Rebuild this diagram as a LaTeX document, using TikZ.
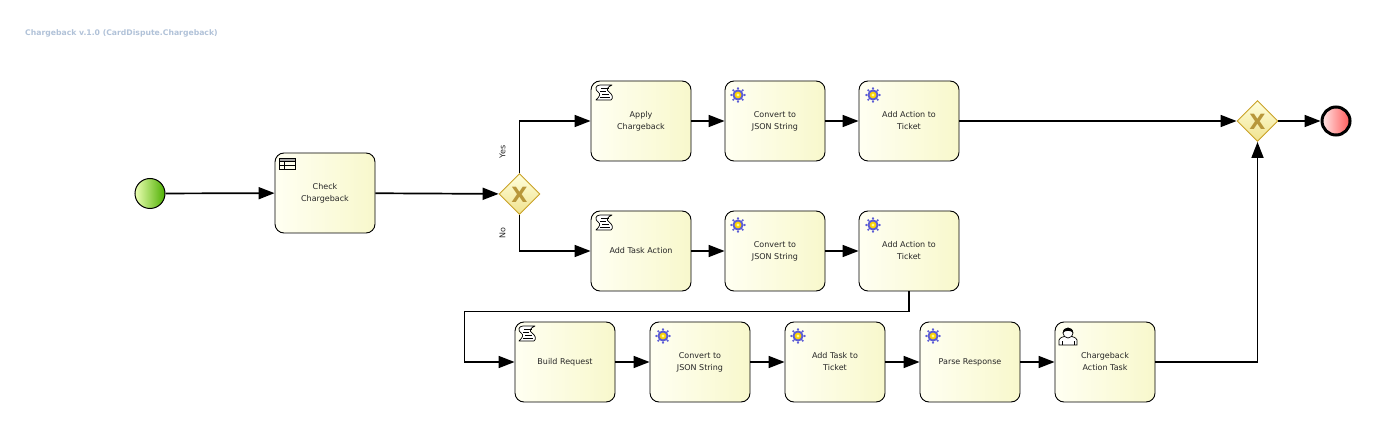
\documentclass[tikz,border=0pt]{standalone}
\usepackage{fontspec}
\setmainfont{DejaVu Sans}
\usetikzlibrary{arrows.meta,shapes.geometric,calc}
\definecolor{taskA}{HTML}{FFFFF2}
\definecolor{taskB}{HTML}{F8F8CC}
\definecolor{titleC}{HTML}{B1C2D8}
\definecolor{gwLine}{HTML}{C9A227}
\definecolor{gwMark}{HTML}{B8973A}
\definecolor{gwA}{HTML}{FFFFDD}
\definecolor{gwB}{HTML}{F0E28E}
\tikzset{
  x=1pt,y=-1pt,
  taskbox/.style={draw=black,line width=0.9pt,rounded corners=9pt,minimum width=100pt,minimum height=80pt,
    inner sep=0pt,align=center,font=\fontsize{8}{12}\selectfont,text=black!85,
    shade,shading angle=135,left color=taskA,right color=taskB},
  gateway/.style={diamond,aspect=1,draw=gwLine,line width=0.9pt,minimum width=41pt,minimum height=41pt,inner sep=0pt,
    shade,top color=gwA,bottom color=gwB},
  flow/.style={draw=black,line width=1.7pt,-{Triangle[length=16pt,width=12pt]}},
  lbl/.style={font=\fontsize{8}{10}\selectfont,text=black!85,rotate=90,inner sep=0pt},
  gwx/.style={font=\bfseries\fontsize{21}{21}\selectfont,text=gwMark,inner sep=0pt},
}
\newcommand{\gearicon}[1]{%
  \fill[blue!60!gray!80] (#1) circle (5.6pt);
  \foreach \a in {0,45,...,315}{\fill[blue!60!gray!80] (#1) ++(\a:6.6pt) circle (1.2pt);}
  \fill[yellow!70!orange] (#1) circle (3.4pt);
  \fill[yellow!40!white] (#1) circle (1.6pt);
}
\newcommand{\scripticon}[1]{%
  \begin{scope}[shift={(#1)}]
    \draw[black,line width=0.7pt,fill=white,line join=round]
      (-4,-8) .. controls (-9,-8) and (-9,-3) .. (-6,-1) .. controls (-3,1) and (-4,3) .. (-8,7)
      -- (7,7) .. controls (10,5) and (8,1) .. (5,-1) .. controls (2,-3) and (3,-6) .. (8,-8) -- cycle;
    \foreach \yy/\xa/\xb in {-5/-3/5,-2/-4/2,1/-2/5,4/-4/6}{\draw[black,line width=0.6pt] (\xa,\yy) -- (\xb,\yy);}
  \end{scope}
}
\newcommand{\tableicon}[1]{%
  \begin{scope}[shift={(#1)}]
    \fill[gray!70] (0,0) rectangle (16,3.5);
    \draw[black,line width=0.6pt] (0,0) rectangle (16,11) (0,3.5) -- (16,3.5) (0,7.2) -- (16,7.2) (5.5,3.5) -- (5.5,11);
  \end{scope}
}
\newcommand{\usericon}[1]{%
  \begin{scope}[shift={(#1)}]
    \draw[black,line width=0.7pt,fill=white] (-9,9) -- (-9,4) .. controls (-8,1) and (-4,1) .. (-3,0) -- (3,0) .. controls (4,1) and (8,1) .. (9,4) -- (9,9) -- cycle;
    \draw[black,line width=0.7pt,fill=white] (0,-3) circle (5pt);
    \fill[black] (-5.2,-3) .. controls (-5.5,-10) and (5.5,-10) .. (5.2,-3) .. controls (3,-6) and (-3,-6) .. (-5.2,-3) -- cycle;
    \draw[black,line width=0.5pt] (-6,9) -- (-6,5) (6,9) -- (6,5);
  \end{scope}
}
\begin{document}
\begin{tikzpicture}
\useasboundingbox (0,0) rectangle (1375,427);
\node[anchor=west,font=\bfseries\fontsize{7.7}{9}\selectfont,text=titleC,inner sep=0pt] (title) at (25,33) {Chargeback v.1.0 (CardDispute.Chargeback)};

\node[circle,draw=black,line width=1pt,minimum size=30pt,inner sep=0pt,shade,shading angle=135,left color=green!25!yellow!30!white,right color=green!55!black!70!yellow] (start) at (150,193.5) {};
\node[taskbox] (check) at (325,193) {Check\\Chargeback};
\node[gateway] (g1) at (519.5,194) {};
\node[gwx] (g1x) at (519.5,194.5) {X};

\node[taskbox] (apply) at (641,121) {Apply\\Chargeback};
\node[taskbox] (conv1) at (775,121) {Convert to\\JSON String};
\node[taskbox] (act1) at (909,121) {Add Action to\\Ticket};

\node[taskbox] (addtask) at (641,251) {Add Task Action};
\node[taskbox] (conv2) at (775,251) {Convert to\\JSON String};
\node[taskbox] (act2) at (909,251) {Add Action to\\Ticket};

\node[taskbox] (build) at (565,362) {Build Request};
\node[taskbox] (conv3) at (700,362) {Convert to\\JSON String};
\node[taskbox] (addt) at (835,362) {Add Task to\\Ticket};
\node[taskbox] (parse) at (970,362) {Parse Response};
\node[taskbox] (cat) at (1105,362) {Chargeback\\Action Task};

\node[gateway] (g2) at (1257.5,121) {};
\node[gwx] (g2x) at (1257.5,121.5) {X};
\node[circle,draw=black,line width=3pt,minimum size=28pt,inner sep=0pt,shade,shading angle=135,left color=red!10!white,right color=red!65!white] (end) at (1336,121) {};

\tableicon{279,158}
\scripticon{604,93}
\scripticon{604,223}
\scripticon{527,334}
\gearicon{738,95}
\gearicon{873,95}
\gearicon{738,225}
\gearicon{873,225}
\gearicon{663,336}
\gearicon{798,336}
\gearicon{933,336}
\usericon{1068,336}

\draw[flow] (start) -- (check);
\draw[flow] (check) -- (g1);
\draw[flow] (g1.north) |- (apply.west);
\draw[flow] (g1.south) |- (addtask.west);
\draw[flow] (apply) -- (conv1);
\draw[flow] (conv1) -- (act1);
\draw[flow] (addtask) -- (conv2);
\draw[flow] (conv2) -- (act2);
\draw[flow] (act1) -- (g2);
\coordinate (r1) at (909,311.5);
\coordinate (r2) at (464.5,311.5);
\draw[flow] (act2.south) -- (r1) -- (r2) |- (build.west);
\draw[flow] (build) -- (conv3);
\draw[flow] (conv3) -- (addt);
\draw[flow] (addt) -- (parse);
\draw[flow] (parse) -- (cat);
\draw[flow] (cat.east) -| (g2.south);
\draw[flow] (g2) -- (end);

\node[lbl] (yes) at (502.5,152) {Yes};
\node[lbl] (no) at (502.5,233) {No};
\end{tikzpicture}
\end{document}
